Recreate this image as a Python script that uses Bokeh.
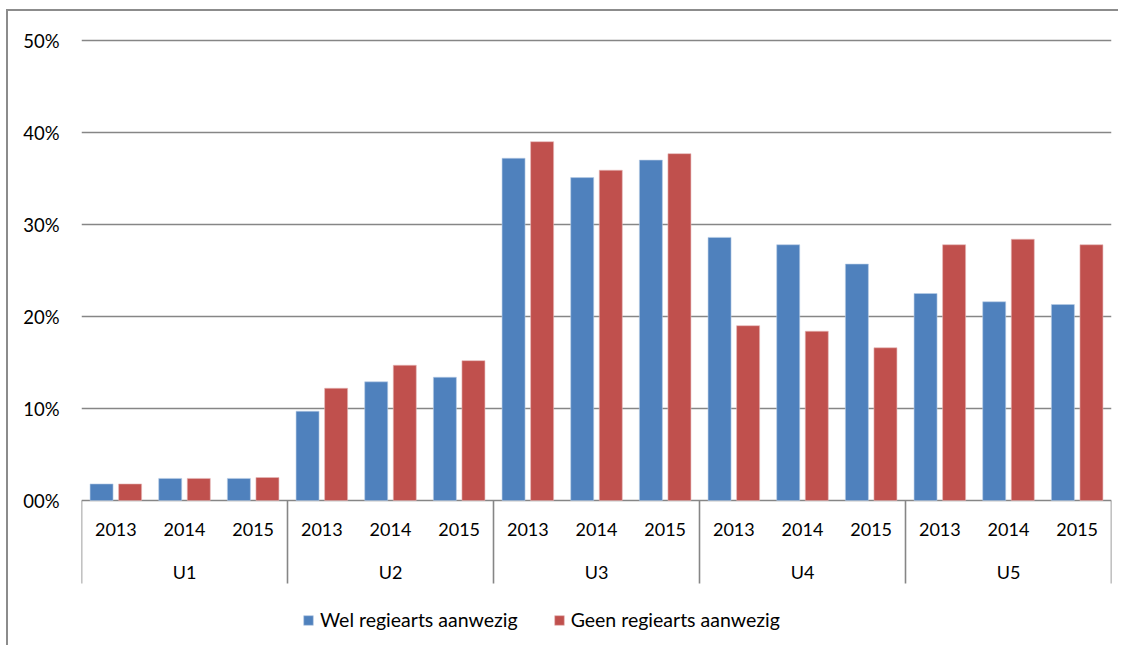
from bokeh.plotting import figure
from bokeh.models import FactorRange, FixedTicker, Range1d, ColumnDataSource, Legend, LegendItem
from bokeh.transform import dodge
from bokeh.core.properties import value
from bokeh.embed import file_html
from bokeh.resources import INLINE

# ---- data ----
groups = ["U1", "U2", "U3", "U4", "U5"]
years = ["2013", "2014", "2015"]
wel = [1.8, 2.4, 2.4, 9.7, 12.9, 13.4, 37.2, 35.1, 37.0, 28.6, 27.8, 25.7, 22.5, 21.6, 21.3]
geen = [1.8, 2.4, 2.5, 12.2, 14.7, 15.2, 39.0, 35.9, 37.7, 19.0, 18.4, 16.6, 27.8, 28.4, 27.8]
series_names = ["Wel regiearts aanwezig", "Geen regiearts aanwezig"]
y_ticks = [0, 10, 20, 30, 40, 50]
y_tick_labels = ["00%", "10%", "20%", "30%", "40%", "50%"]

BLUE = "#4F81BD"
RED = "#C0504D"
GRID = "#868686"
FONT = "Lato"

factors = [(g, y) for g in groups for y in years]
src = ColumnDataSource(dict(x=factors, wel=wel, geen=geen, year=[f[1] for f in factors]))

# layout constants (pixels)
PX = 9.2               # pixels per percentage point
W, H = 1112, 636
LEFT, RIGHT, TOP = 73, 9, 24
frame_h = H - TOP
y_end = 50 + 5 / PX
y_start = y_end - frame_h / PX

p = figure(width=W, height=H, output_backend="svg", toolbar_location=None,
           x_range=FactorRange(*factors, factor_padding=0, group_padding=0, range_padding=0),
           y_range=Range1d(y_start, y_end), x_axis_location=None,
           min_border_left=LEFT, min_border_right=RIGHT, min_border_top=TOP, min_border_bottom=0)
p.styles = {"margin-left": "6px", "margin-top": "9px",
            "border-left": "2px solid #8c8c8c", "border-top": "2px solid #8c8c8c"}
p.outline_line_color = None
p.xgrid.visible = False

# y axis
ya = p.yaxis[0]
ya.ticker = FixedTicker(ticks=y_ticks)
ya.major_label_overrides = {t: l for t, l in zip(y_ticks, y_tick_labels)}
ya.axis_line_color = None
ya.major_tick_line_color = None
ya.minor_tick_line_color = None
ya.major_label_standoff = 16
ya.major_label_text_font = FONT
ya.major_label_text_font_size = "18.5px"
ya.major_label_text_color = "black"
p.ygrid.grid_line_color = GRID
p.ygrid.grid_line_width = 1.6

bw = 0.335
r1 = p.vbar(x=dodge("x", -0.208, range=p.x_range), top="wel", width=bw, source=src,
            fill_color=BLUE, line_color="#b9cde5", line_width=0.6)
r2 = p.vbar(x=dodge("x", 0.208, range=p.x_range), top="geen", width=bw, source=src,
            fill_color=RED, line_color="#e6b9b8", line_width=0.6)

# category axis drawn inside extended frame
p.text(x="x", y=-29 / PX, text="year", source=src, text_font=value(FONT),
       text_font_size="18px", text_align="center", text_baseline="middle", text_color="black")
p.text(x=groups, y=[-71 / PX] * len(groups), text=groups, text_font=value(FONT),
       text_font_size="18px", text_align="center", text_baseline="middle", text_color="black")

# group separators
bounds = [(g, years[0], -0.5) for g in groups] + [(groups[-1], years[-1], 0.5)]
p.segment(x0=bounds, x1=bounds, y0=[0] * len(bounds), y1=[-83 / PX] * len(bounds),
          line_color=GRID, line_width=1.6)

legend = Legend(items=[LegendItem(label=series_names[0], renderers=[r1]),
                       LegendItem(label=series_names[1], renderers=[r2])],
                orientation="horizontal", location=(221, 16),
                glyph_width=12, glyph_height=12, label_standoff=6, spacing=35,
                padding=0, margin=0, border_line_color=None, background_fill_alpha=0,
                label_text_font=FONT, label_text_font_size="19.5px", label_text_color="black")
p.add_layout(legend)

open("out.html", "w").write(file_html(p, INLINE))
